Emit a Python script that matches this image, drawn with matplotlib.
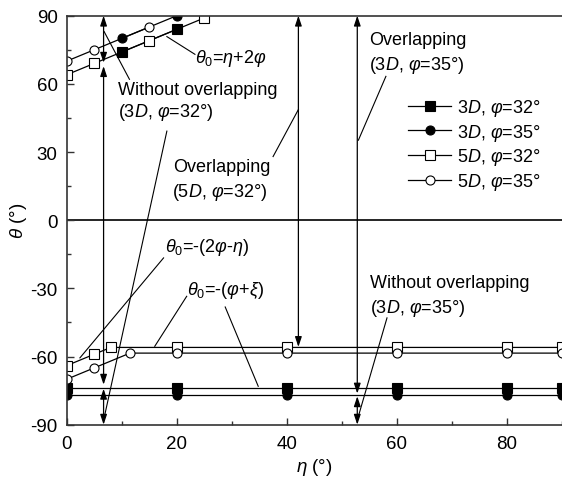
import matplotlib
matplotlib.use('Agg')
import matplotlib.pyplot as plt
import matplotlib.ticker as ticker

plt.rcParams['font.family'] = 'Liberation Sans'
plt.rcParams['mathtext.fontset'] = 'custom'
plt.rcParams['mathtext.rm'] = 'Liberation Sans'
plt.rcParams['mathtext.it'] = 'Liberation Sans:italic'
plt.rcParams['mathtext.bf'] = 'Liberation Sans:bold'
plt.rcParams['axes.unicode_minus'] = False

FONT_SIZE = 13
LINE_COLOR = 'black'

# upper branch, theta0 = eta + 2 phi
eta_3d32_up = [10, 20]
theta_3d32_up = [74, 84]
eta_3d35_up = [10, 20]
theta_3d35_up = [80, 90]
eta_5d32_up = [0, 5, 15, 25]
theta_5d32_up = [64, 69, 79, 89]
eta_5d35_up = [0, 5, 15]
theta_5d35_up = [70, 75, 85]

# lower branch, theta0 = -(2 phi - eta) then -(phi + xi)
eta_3d_low = [0, 20, 40, 60, 80, 90]
theta_3d32_low = [-74, -74, -74, -74, -74, -74]
theta_3d35_low = [-77, -77, -77, -77, -77, -77]
eta_5d32_low = [0, 5, 8, 20, 40, 60, 80, 90]
theta_5d32_low = [-64, -59, -56, -56, -56, -56, -56, -56]
eta_5d35_low = [0, 5, 11.5, 20, 40, 60, 80, 90]
theta_5d35_low = [-70, -65, -58.5, -58.5, -58.5, -58.5, -58.5, -58.5]

# vertical double arrows: (eta, theta_from, theta_to)
range_arrows = [
    (6.7, 69.3, 90),
    (6.7, -72.4, 67.8),
    (6.7, -90, -74.2),
    (42.1, -55.8, 90),
    (52.8, -76.3, 90),
    (52.8, -90, -77.5),
]

# leader lines: (eta0, theta0, eta1, theta1)
leaders = [
    (23.3, 73, 18.2, 80.8),
    (11.4, 62, 6.8, 83),
    (18.2, 39.2, 6.8, -87),
    (37.5, 28.0, 42.1, 48.7),
    (58.0, 63.3, 53.0, 35.2),
    (58.2, -43, 53.0, -86.3),
    (17.6, -16.6, 2.4, -60.6),
    (21.8, -33.5, 16.0, -55.5),
    (28.8, -38.2, 34.8, -73.1),
]

# labels: (eta, theta, text)
labels = [
    (23.3, 71.5, r'$\theta_0$=$\eta$+2$\varphi$'),
    (9.4, 57.5, 'Without overlapping'),
    (9.4, 48.0, r'(3$D$, $\varphi$=32°)'),
    (19.4, 23.8, 'Overlapping'),
    (19.1, 12.8, r'(5$D$, $\varphi$=32°)'),
    (55.0, 79.6, 'Overlapping'),
    (55.0, 68.6, r'(3$D$, $\varphi$=35°)'),
    (55.1, -27.6, 'Without overlapping'),
    (55.1, -38.6, r'(3$D$, $\varphi$=35°)'),
    (17.9, -11.5, r'$\theta_0$=-(2$\varphi$-$\eta$)'),
    (21.8, -30.5, r'$\theta_0$=-($\varphi$+$\xi$)'),
]

legend_labels = [r'3$D$, $\varphi$=32°', r'3$D$, $\varphi$=35°',
                 r'5$D$, $\varphi$=32°', r'5$D$, $\varphi$=35°']


def draw_series(ax, eta_up, theta_up, eta_low, theta_low, marker, filled, label):
    face = LINE_COLOR if filled else 'white'
    style = dict(color=LINE_COLOR, lw=0.9, marker=marker, markersize=6.5,
                 markerfacecolor=face, markeredgecolor=LINE_COLOR,
                 markeredgewidth=0.8)
    line, = ax.plot(eta_low, theta_low, label=label, **style)
    ax.plot(eta_up, theta_up, **style)
    return line


def main():
    fig = plt.figure(figsize=(5.62, 4.81), dpi=100)
    ax = fig.add_axes([0.1187, 0.115, 0.8813, 0.8503])

    ax.axhline(0, color=LINE_COLOR, lw=1.2, zorder=1)

    for x, y0, y1 in range_arrows:
        ax.annotate('', xy=(x, y1), xytext=(x, y0),
                    arrowprops=dict(arrowstyle='<|-|>,head_length=0.6,head_width=0.2',
                                    color=LINE_COLOR, lw=0.9, shrinkA=0, shrinkB=0,
                                    mutation_scale=10), zorder=2)

    for x0, y0, x1, y1 in leaders:
        ax.plot([x0, x1], [y0, y1], color=LINE_COLOR, lw=0.8, zorder=2)

    handles = []
    handles.append(draw_series(ax, eta_3d32_up, theta_3d32_up, eta_3d_low,
                               theta_3d32_low, 's', True, legend_labels[0]))
    handles.append(draw_series(ax, eta_3d35_up, theta_3d35_up, eta_3d_low,
                               theta_3d35_low, 'o', True, legend_labels[1]))
    handles.append(draw_series(ax, eta_5d32_up, theta_5d32_up, eta_5d32_low,
                               theta_5d32_low, 's', False, legend_labels[2]))
    handles.append(draw_series(ax, eta_5d35_up, theta_5d35_up, eta_5d35_low,
                               theta_5d35_low, 'o', False, legend_labels[3]))

    for x, y, s in labels:
        ax.text(x, y, s, fontsize=FONT_SIZE, ha='left', va='center')

    ax.set_xlim(0, 90)
    ax.set_ylim(-90, 90)
    ax.xaxis.set_major_locator(ticker.MultipleLocator(20))
    ax.xaxis.set_minor_locator(ticker.MultipleLocator(10))
    ax.yaxis.set_major_locator(ticker.MultipleLocator(30))
    ax.yaxis.set_minor_locator(ticker.MultipleLocator(15))
    ax.tick_params(which='both', direction='in', labelsize=13.5, width=1.0,
                   color='#333333')
    ax.tick_params(which='major', length=5)
    ax.tick_params(which='minor', length=3)
    ax.tick_params(axis='x', which='major', pad=7.5)
    ax.tick_params(axis='y', which='major', pad=6.5)
    ax.spines['right'].set_visible(False)
    for side in ('left', 'bottom', 'top'):
        ax.spines[side].set_linewidth(1.2)
        ax.spines[side].set_color('#333333')

    ax.set_xlabel(r'$\eta$ (°)', fontsize=13.5, labelpad=3)
    ax.set_ylabel(r'$\theta$ (°)', fontsize=13.5, labelpad=1)

    ax.legend(handles=handles, loc='upper left', frameon=False,
              bbox_to_anchor=(408 / 562, 1 - 98 / 481),
              bbox_transform=fig.transFigure, fontsize=FONT_SIZE,
              borderpad=0, borderaxespad=0, handlelength=2.4,
              handletextpad=0.3, labelspacing=0.2)

    fig.savefig('out.png', dpi=100)
    plt.close(fig)


if __name__ == '__main__':
    main()
